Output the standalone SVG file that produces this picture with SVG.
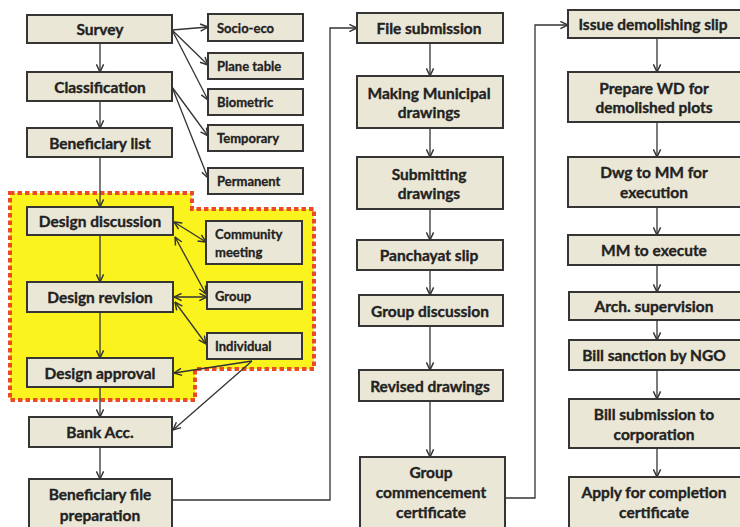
<svg xmlns="http://www.w3.org/2000/svg" width="740" height="527" viewBox="0 0 740 527">
  <defs>
    <marker id="arr" viewBox="0 0 10 10" refX="9.5" refY="5" markerWidth="9" markerHeight="9" markerUnits="userSpaceOnUse" orient="auto-start-reverse">
      <path d="M1,1 L9.5,5 L1,9" fill="none" stroke="#333" stroke-width="1.6"/>
    </marker>
    <style>
      .box { fill: #ebe7d6; stroke: #353535; stroke-width: 2; }
      .t { font-family: Lato, "Liberation Sans", sans-serif; font-weight: 700; font-size: 15.5px; fill: #222; stroke: #222; stroke-width: 0.35; text-anchor: middle; dominant-baseline: central; }
      .s { font-family: Lato, "Liberation Sans", sans-serif; font-weight: 700; font-size: 13px; fill: #222; stroke: #222; stroke-width: 0.3; text-anchor: start; dominant-baseline: central; }
      .c { fill: none; stroke: #333; stroke-width: 1.3; }
      .one { marker-end: url(#arr); }
      .two { marker-start: url(#arr); marker-end: url(#arr); }
    </style>
  </defs>
  <rect width="740" height="527" fill="#ffffff"/>

  <!-- design participation zone -->
  <g id="design-zone">
    <path d="M10,193 H192 V209 H314 V369 H195 V400 H10 Z" fill="#fbf31e" stroke="#ec4a26" stroke-width="4" stroke-dasharray="4.5 3"/>
  </g>

  <!-- connectors -->
  <g id="connectors">
    <!-- main chain, column 1 -->
    <line class="c one" x1="100" y1="43" x2="100" y2="72"/>
    <line class="c one" x1="100" y1="101" x2="100" y2="128"/>
    <line class="c one" x1="100" y1="157" x2="100" y2="207"/>
    <line class="c one" x1="100" y1="235" x2="100" y2="282"/>
    <line class="c one" x1="100" y1="312" x2="100" y2="358"/>
    <line class="c one" x1="100" y1="387" x2="100" y2="417"/>
    <line class="c one" x1="100" y1="447" x2="100" y2="479"/>
    <!-- survey branches -->
    <line class="c one" x1="172" y1="30" x2="208" y2="27"/>
    <line class="c one" x1="172" y1="30" x2="208" y2="65"/>
    <line class="c one" x1="172" y1="30" x2="208" y2="100"/>
    <!-- classification branches -->
    <line class="c one" x1="172" y1="87" x2="208" y2="136"/>
    <line class="c one" x1="172" y1="87" x2="208" y2="178"/>
    <!-- design feedback -->
    <line class="c two" x1="174" y1="222" x2="206" y2="242"/>
    <line class="c two" x1="175" y1="237" x2="206" y2="294"/>
    <line class="c two" x1="174" y1="297" x2="207" y2="297"/>
    <line class="c two" x1="175" y1="302" x2="206" y2="344"/>
    <line class="c one" x1="252" y1="361" x2="174" y2="373"/>
    <line class="c one" x1="252" y1="361" x2="173" y2="430"/>
    <!-- column links -->
    <polyline class="c one" points="172,500 330,500 330,28 357,28"/>
    <polyline class="c one" points="505,498 535,498 535,25 568,25"/>
    <!-- column 2 -->
    <line class="c one" x1="430" y1="43" x2="430" y2="76"/>
    <line class="c one" x1="430" y1="128" x2="430" y2="157"/>
    <line class="c one" x1="430" y1="209" x2="430" y2="240"/>
    <line class="c one" x1="430" y1="270" x2="430" y2="295"/>
    <line class="c one" x1="430" y1="326" x2="430" y2="370"/>
    <line class="c one" x1="430" y1="401" x2="430" y2="457"/>
    <!-- column 3 -->
    <line class="c one" x1="657" y1="38" x2="657" y2="72"/>
    <line class="c one" x1="657" y1="122" x2="657" y2="157"/>
    <line class="c one" x1="657" y1="207" x2="657" y2="235"/>
    <line class="c one" x1="657" y1="265" x2="657" y2="292"/>
    <line class="c one" x1="657" y1="320" x2="657" y2="340"/>
    <line class="c one" x1="657" y1="370" x2="657" y2="399"/>
    <line class="c one" x1="657" y1="448" x2="657" y2="477"/>
  </g>

  <!-- column 1 -->
  <g id="survey"><rect class="box" x="27" y="15" width="145" height="28"/><text class="t" x="100" y="29">Survey</text></g>
  <g id="classification"><rect class="box" x="27" y="72" width="145" height="29"/><text class="t" x="100" y="86.5">Classification</text></g>
  <g id="beneficiary-list"><rect class="box" x="27" y="128" width="145" height="29"/><text class="t" x="100" y="142.5">Beneficiary list</text></g>
  <g id="design-discussion"><rect class="box" x="27" y="207" width="146" height="28"/><text class="t" x="100" y="221">Design discussion</text></g>
  <g id="design-revision"><rect class="box" x="27" y="282" width="146" height="30"/><text class="t" x="100" y="297">Design revision</text></g>
  <g id="design-approval"><rect class="box" x="27" y="358" width="146" height="29"/><text class="t" x="100" y="372.5">Design approval</text></g>
  <g id="bank-acc"><rect class="box" x="29" y="417" width="143" height="30"/><text class="t" x="100" y="432">Bank Acc.</text></g>
  <g id="beneficiary-file"><rect class="box" x="29" y="479" width="143" height="52"/><text class="t" x="100" y="494">Beneficiary file</text><text class="t" x="100" y="515">preparation</text></g>

  <!-- side boxes -->
  <g id="socio-eco"><rect class="box" x="208" y="14" width="95" height="27"/><text class="s" x="217" y="27.5">Socio-eco</text></g>
  <g id="plane-table"><rect class="box" x="208" y="53" width="95" height="26"/><text class="s" x="217" y="66">Plane table</text></g>
  <g id="biometric"><rect class="box" x="208" y="89" width="95" height="26"/><text class="s" x="217" y="102">Biometric</text></g>
  <g id="temporary"><rect class="box" x="208" y="125" width="95" height="26"/><text class="s" x="217" y="138">Temporary</text></g>
  <g id="permanent"><rect class="box" x="208" y="168" width="95" height="26"/><text class="s" x="217" y="181">Permanent</text></g>
  <g id="community-meeting"><rect class="box" x="206" y="221" width="96" height="43"/><text class="s" x="215" y="234">Community</text><text class="s" x="215" y="252">meeting</text></g>
  <g id="group"><rect class="box" x="207" y="282" width="95" height="27"/><text class="s" x="215" y="295.5">Group</text></g>
  <g id="individual"><rect class="box" x="207" y="333" width="95" height="26"/><text class="s" x="215" y="346">Individual</text></g>

  <!-- column 2 -->
  <g id="file-submission"><rect class="box" x="357" y="13" width="146" height="30"/><text class="t" x="429" y="28">File submission</text></g>
  <g id="municipal-drawings"><rect class="box" x="357" y="76" width="146" height="52"/><text class="t" x="429" y="93">Making Municipal</text><text class="t" x="429" y="112">drawings</text></g>
  <g id="submitting-drawings"><rect class="box" x="357" y="157" width="146" height="52"/><text class="t" x="429" y="174">Submitting</text><text class="t" x="429" y="193">drawings</text></g>
  <g id="panchayat-slip"><rect class="box" x="357" y="240" width="146" height="30"/><text class="t" x="429" y="255">Panchayat slip</text></g>
  <g id="group-discussion"><rect class="box" x="359" y="295" width="144" height="31"/><text class="t" x="430" y="310.5">Group discussion</text></g>
  <g id="revised-drawings"><rect class="box" x="359" y="370" width="144" height="31"/><text class="t" x="430" y="385.5">Revised drawings</text></g>
  <g id="commencement"><rect class="box" x="360" y="457" width="145" height="74"/><text class="t" x="431" y="472">Group</text><text class="t" x="431" y="492">commencement</text><text class="t" x="431" y="512">certificate</text></g>

  <!-- column 3 -->
  <g id="demolishing-slip"><rect class="box" x="568" y="10" width="178" height="28"/><text class="t" x="653" y="24">Issue demolishing slip</text></g>
  <g id="prepare-wd"><rect class="box" x="568" y="72" width="178" height="50"/><text class="t" x="654" y="88">Prepare WD for</text><text class="t" x="654" y="107">demolished plots</text></g>
  <g id="dwg-to-mm"><rect class="box" x="568" y="157" width="178" height="50"/><text class="t" x="654" y="172">Dwg to MM for</text><text class="t" x="654" y="192">execution</text></g>
  <g id="mm-execute"><rect class="box" x="568" y="235" width="178" height="30"/><text class="t" x="654" y="250">MM to execute</text></g>
  <g id="arch-supervision"><rect class="box" x="569" y="292" width="177" height="28"/><text class="t" x="654" y="306">Arch. supervision</text></g>
  <g id="bill-sanction"><rect class="box" x="569" y="340" width="177" height="30"/><text class="t" x="654" y="355">Bill sanction by NGO</text></g>
  <g id="bill-submission"><rect class="box" x="569" y="399" width="177" height="49"/><text class="t" x="654" y="414">Bill submission to</text><text class="t" x="654" y="434">corporation</text></g>
  <g id="completion"><rect class="box" x="569" y="477" width="177" height="54"/><text class="t" x="654" y="492">Apply for completion</text><text class="t" x="654" y="512">certificate</text></g>
</svg>
